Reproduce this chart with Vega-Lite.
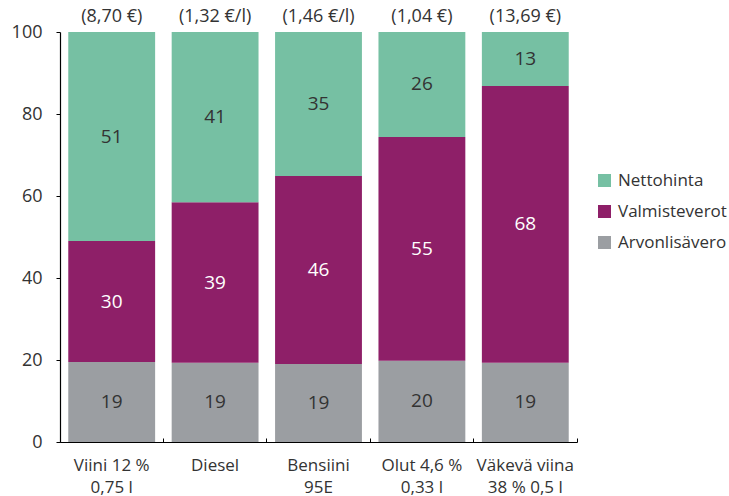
{
  "$schema": "https://vega.github.io/schema/vega-lite/v6.json",
  "width": 517,
  "height": 410,
  "autosize": {"type": "none"},
  "padding": {"left": 60, "top": 32, "right": 152, "bottom": 54},
  "background": "white",
  "config": {
    "font": "Open Sans",
    "view": {"stroke": null},
    "axis": {"grid": false, "domainColor": "#000000", "tickColor": "#000000", "labelColor": "#333333", "domainWidth": 1.2, "tickWidth": 1}
  },
  "datasets": {
    "segments": [
      {"category": "Viini 12 %|0,75 l", "segment": "Arvonlisävero", "order": 1, "value": 19.5, "label": "19"},
      {"category": "Viini 12 %|0,75 l", "segment": "Valmisteverot", "order": 2, "value": 29.5, "label": "30"},
      {"category": "Viini 12 %|0,75 l", "segment": "Nettohinta", "order": 3, "value": 51.0, "label": "51"},
      {"category": "Diesel", "segment": "Arvonlisävero", "order": 1, "value": 19.3, "label": "19"},
      {"category": "Diesel", "segment": "Valmisteverot", "order": 2, "value": 39.2, "label": "39"},
      {"category": "Diesel", "segment": "Nettohinta", "order": 3, "value": 41.5, "label": "41"},
      {"category": "Bensiini|95E", "segment": "Arvonlisävero", "order": 1, "value": 19.0, "label": "19"},
      {"category": "Bensiini|95E", "segment": "Valmisteverot", "order": 2, "value": 45.9, "label": "46"},
      {"category": "Bensiini|95E", "segment": "Nettohinta", "order": 3, "value": 35.1, "label": "35"},
      {"category": "Olut 4,6 %|0,33 l", "segment": "Arvonlisävero", "order": 1, "value": 19.8, "label": "20"},
      {"category": "Olut 4,6 %|0,33 l", "segment": "Valmisteverot", "order": 2, "value": 54.6, "label": "55"},
      {"category": "Olut 4,6 %|0,33 l", "segment": "Nettohinta", "order": 3, "value": 25.6, "label": "26"},
      {"category": "Väkevä viina|38 % 0,5 l", "segment": "Arvonlisävero", "order": 1, "value": 19.3, "label": "19"},
      {"category": "Väkevä viina|38 % 0,5 l", "segment": "Valmisteverot", "order": 2, "value": 67.5, "label": "68"},
      {"category": "Väkevä viina|38 % 0,5 l", "segment": "Nettohinta", "order": 3, "value": 13.2, "label": "13"}
    ],
    "prices": [
      {"category": "Viini 12 %|0,75 l", "price": "(8,70 €)"},
      {"category": "Diesel", "price": "(1,32 €/l)"},
      {"category": "Bensiini|95E", "price": "(1,46 €/l)"},
      {"category": "Olut 4,6 %|0,33 l", "price": "(1,04 €)"},
      {"category": "Väkevä viina|38 % 0,5 l", "price": "(13,69 €)"}
    ]
  },
  "layer": [
    {
      "data": {"name": "segments"},
      "transform": [
        {"stack": "value", "groupby": ["category"], "sort": [{"field": "order", "order": "ascending"}], "as": ["y0", "y1"]}
      ],
      "mark": {"type": "bar", "width": {"band": 0.84}},
      "encoding": {
        "x": {
          "field": "category", "type": "nominal", "sort": null,
          "scale": {"paddingInner": 0, "paddingOuter": 0},
          "axis": {
            "title": null, "labelAngle": 0, "bandPosition": 1, "tickExtra": true,
            "labelExpr": "split(datum.label, '|')",
            "labelFontSize": 17, "labelLineHeight": 22, "tickSize": -4, "labelPadding": 19
          }
        },
        "y": {
          "field": "y1", "type": "quantitative",
          "scale": {"domain": [0, 100], "nice": false},
          "axis": {"title": null, "values": [0, 20, 40, 60, 80, 100], "tickSize": 4, "labelPadding": 14, "labelFontSize": 18}
        },
        "y2": {"field": "y0"},
        "color": {
          "field": "segment", "type": "nominal",
          "scale": {"domain": ["Nettohinta", "Valmisteverot", "Arvonlisävero"], "range": ["#76c0a3", "#8e1f68", "#9b9ea2"]},
          "legend": {
            "title": null, "orient": "none", "legendX": 536, "legendY": 140,
            "symbolType": "square", "symbolSize": 169, "symbolStrokeWidth": 0,
            "labelFontSize": 17, "labelColor": "#333333", "labelOffset": 5, "rowPadding": 13, "labelLimit": 200
          }
        }
      }
    },
    {
      "data": {"name": "segments"},
      "transform": [
        {"stack": "value", "groupby": ["category"], "sort": [{"field": "order", "order": "ascending"}], "as": ["y0", "y1"]},
        {"calculate": "(datum.y0 + datum.y1) / 2", "as": "mid"}
      ],
      "mark": {"type": "text", "fontSize": 19, "baseline": "middle", "align": "center"},
      "encoding": {
        "x": {"field": "category", "type": "nominal", "sort": null},
        "y": {"field": "mid", "type": "quantitative"},
        "text": {"field": "label"},
        "color": {"condition": {"test": "datum.segment === 'Valmisteverot'", "value": "#ffffff"}, "value": "#333333"}
      }
    },
    {
      "data": {"name": "prices"},
      "mark": {"type": "text", "fontSize": 18, "baseline": "middle", "align": "center", "dy": -15, "color": "#333333"},
      "encoding": {
        "x": {"field": "category", "type": "nominal", "sort": null},
        "y": {"datum": 100},
        "text": {"field": "price"}
      }
    }
  ]
}
